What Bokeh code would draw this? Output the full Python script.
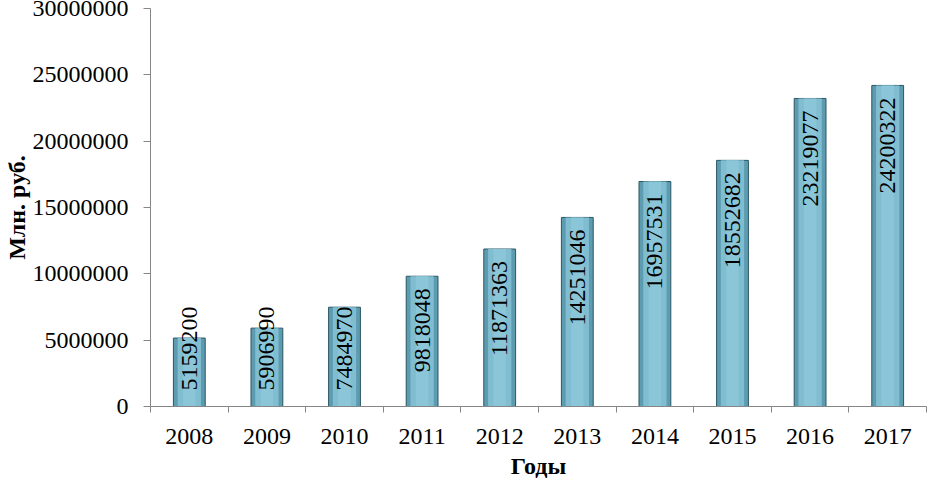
from bokeh.plotting import figure
from bokeh.models import ColumnDataSource, Range1d, FixedTicker, NumeralTickFormatter
from bokeh.embed import file_html
from bokeh.resources import INLINE
from bokeh.core.properties import value
import math

years = ["2008", "2009", "2010", "2011", "2012", "2013", "2014", "2015", "2016", "2017"]
values = [5159200, 5906990, 7484970, 9818048, 11871363, 14251046, 16957531, 18552682, 23219077, 24200322]
y_ticks = [0, 5000000, 10000000, 15000000, 20000000, 25000000, 30000000]

FONT = "Liberation Serif"
n = len(years)
xs = [i + 0.5 for i in range(n)]

# label anchor: text end placed just below bar top, but kept above the baseline for short bars
px = 30000000 / 398.0
label_len = {7: 86, 8: 98}
label_y = [max(v - 12 * px, (14 + label_len[len(str(v))]) * px) for v in values]

src = ColumnDataSource(dict(x=xs, top=values, label=[str(v) for v in values], ly=label_y))

p = figure(width=927, height=481, output_backend="svg", toolbar_location=None,
           x_range=Range1d(0, n), y_range=Range1d(0, 30000000),
           min_border_left=150, min_border_right=1, min_border_top=8, min_border_bottom=75,
           outline_line_color=None, background_fill_color="white", border_fill_color="white")
p.xgrid.visible = False
p.ygrid.visible = False

p.vbar(x="x", top="top", width=0.41, bottom=0, source=src,
       fill_color="#5d9cb0", line_color="#2c5664", line_width=1)
p.vbar(x="x", top="top", width=0.30, bottom=0, source=src,
       fill_color="#80bdd0", line_color=None)
p.vbar(x="x", top="top", width=0.16, bottom=0, source=src,
       fill_color="#8ac6d8", line_color=None)

p.text(x="x", y="ly", text="label", source=src, angle=math.pi / 2,
       text_align="right", text_baseline="middle",
       text_font=value(FONT), text_font_size="24px", text_color="black")

xa = p.xaxis[0]
xa.ticker = FixedTicker(ticks=xs, minor_ticks=list(range(n + 1)))
xa.major_label_overrides = {x: y for x, y in zip(xs, years)}
xa.major_tick_line_color = None
xa.major_tick_out = 0
xa.major_tick_in = 0
xa.minor_tick_line_color = "#868686"
xa.minor_tick_out = 6
xa.minor_tick_in = 0
xa.axis_line_color = "#868686"
xa.major_label_text_font = FONT
xa.major_label_text_font_size = "24px"
xa.major_label_text_color = "black"
xa.major_label_standoff = 16
xa.axis_label = "Годы"
xa.axis_label_text_font = FONT
xa.axis_label_text_font_style = "bold"
xa.axis_label_text_font_size = "24px"
xa.axis_label_text_color = "black"
xa.axis_label_standoff = 6

ya = p.yaxis[0]
ya.ticker = FixedTicker(ticks=y_ticks, minor_ticks=[])
ya.formatter = NumeralTickFormatter(format="0")
ya.axis_line_color = "#868686"
ya.major_tick_line_color = "#868686"
ya.major_tick_out = 7
ya.major_tick_in = 0
ya.minor_tick_line_color = None
ya.major_label_text_font = FONT
ya.major_label_text_font_size = "24px"
ya.major_label_text_color = "black"
ya.major_label_standoff = 15
ya.axis_label = "Млн. руб."
ya.axis_label_text_font = FONT
ya.axis_label_text_font_style = "bold"
ya.axis_label_text_font_size = "24px"
ya.axis_label_text_color = "black"
ya.axis_label_standoff = 0

open("out.html", "w").write(file_html(p, INLINE))
